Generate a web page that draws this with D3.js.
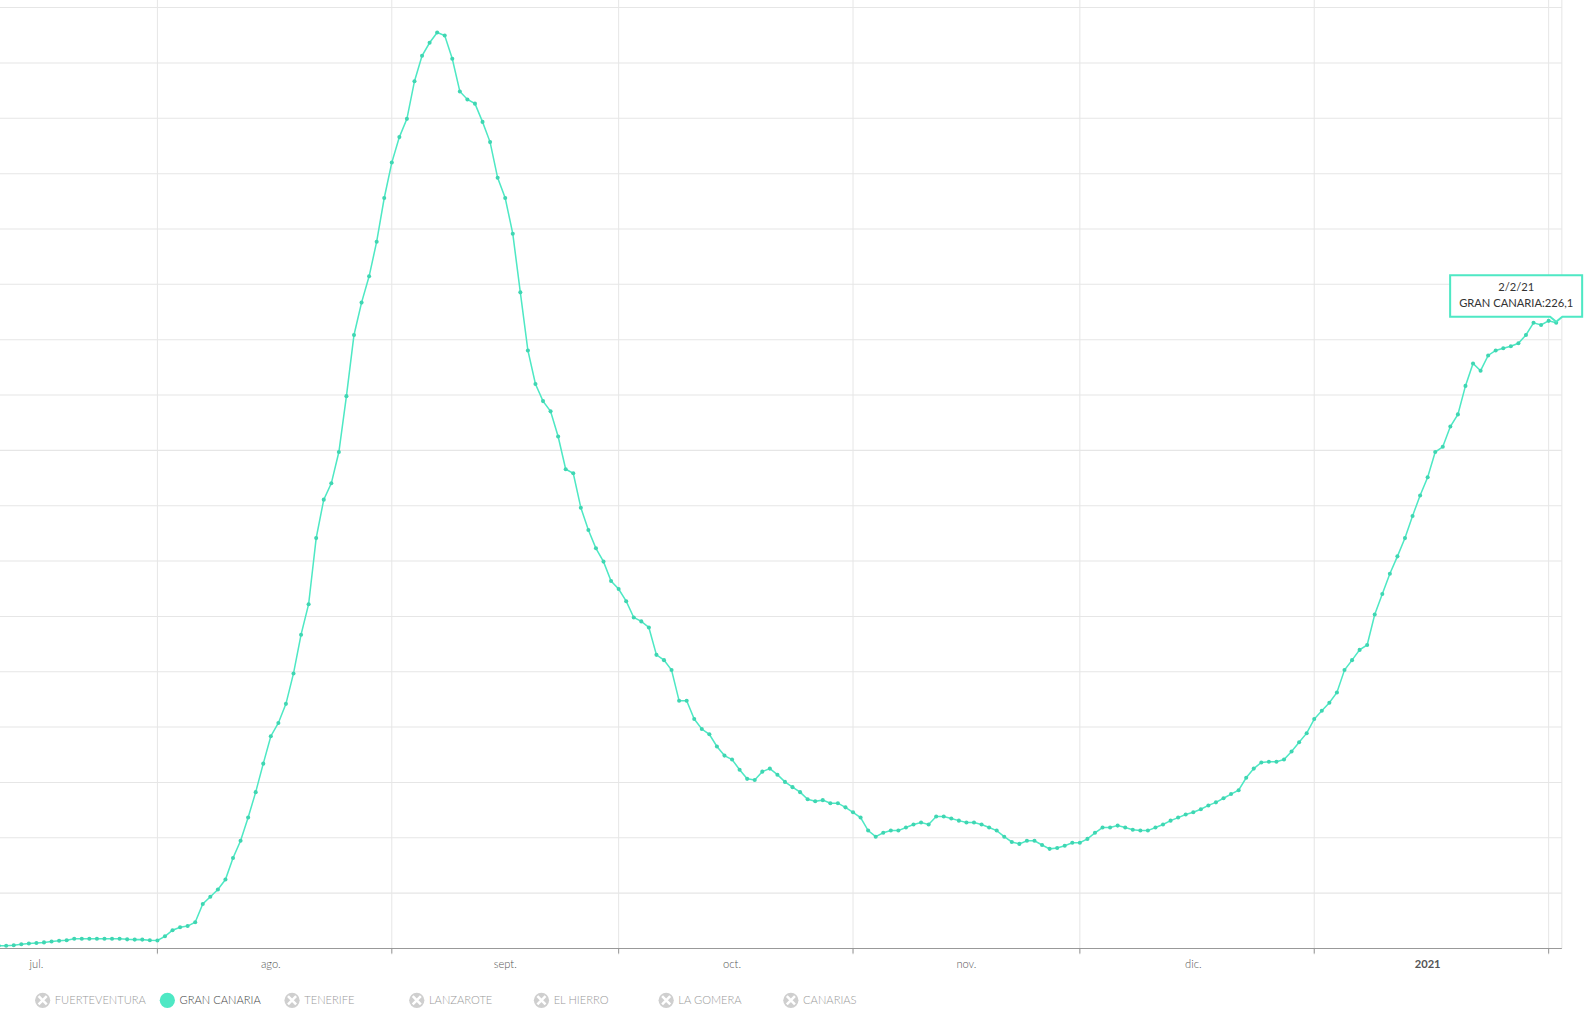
<!DOCTYPE html>
<html>
<head>
<meta charset="utf-8">
<script src="https://cdn.jsdelivr.net/npm/d3@7"></script>
<style>
body { margin: 0; background: #fff; font-family: Lato, "Open Sans", sans-serif; }
</style>
</head>
<body>
<svg id="chart" width="1590" height="1018"></svg>
<script>
// daily incidence, Gran Canaria, from 10 Jul 2020 to 2 Feb 2021
const startDate = new Date(2020, 6, 10);
const julValues = [1, 1, 1, 1.2, 1.5, 1.8, 2, 2.2, 2.5, 2.8, 3, 3.5, 3.5, 3.5, 3.5, 3.5, 3.5, 3.5, 3.3, 3.2, 3.2, 3];
const augValues = [2.9, 4.4, 6.6, 7.7, 8.1, 9.5, 16.1, 18.7, 21.3, 24.9, 32.7, 38.9, 47.3, 56.5, 66.8, 76.7, 81.5, 88.4, 99.4, 113.4, 124.4, 148.3, 162.2, 168.1, 179.4, 199.6, 221.7, 233.4, 242.9, 255.4, 271.2];
const sepValues = [284.0, 293.2, 299.8, 313.4, 322.6, 327.3, 331.0, 329.9, 321.5, 309.7, 306.8, 305.3, 298.7, 291.4, 278.5, 271.2, 258.3, 237.1, 216.1, 204.0, 197.8, 194.1, 185.0, 173.2, 171.7, 159.3, 151.2, 144.6, 139.8, 132.8];
const octValues = [129.9, 125.5, 119.6, 118.2, 116.0, 106.1, 104.2, 100.6, 89.5, 89.5, 82.9, 79.3, 77.4, 73.0, 69.7, 68.3, 64.6, 61.3, 60.9, 63.9, 65.0, 62.8, 60.2, 58.3, 56.5, 53.9, 53.2, 53.6, 52.5, 52.5, 51.0];
const novValues = [49.2, 47.3, 42.6, 40.4, 41.8, 42.6, 42.6, 43.7, 44.8, 45.5, 44.8, 47.7, 47.7, 47.0, 46.2, 45.5, 45.5, 44.8, 43.7, 42.6, 40.4, 38.5, 37.8, 38.9, 38.9, 37.4, 36.0, 36.3, 37.1, 38.2];
const decValues = [38.2, 39.6, 41.8, 43.7, 43.7, 44.4, 43.7, 42.9, 42.6, 42.6, 43.7, 44.8, 46.2, 47.3, 48.4, 49.2, 50.3, 51.7, 52.8, 54.3, 55.8, 57.2, 61.7, 65.0, 67.2, 67.5, 67.5, 68.3, 71.2, 74.5, 77.8];
const janValues = [82.9, 85.9, 88.8, 92.5, 100.6, 104.2, 107.9, 109.7, 120.7, 128.1, 135.4, 141.7, 148.3, 156.3, 163.7, 170.3, 179.4, 181.3, 188.6, 193.0, 203.3, 211.4, 208.8, 214.3, 216.1, 216.9, 217.6, 218.7, 221.7, 226.1, 225.3];
const febValues = [226.8, 226.1];
const monthLabels = ["jul.", "ago.", "sept.", "oct.", "nov.", "dic.", "2021"];
const legendNames = ["FUERTEVENTURA", "GRAN CANARIA", "TENERIFE", "LANZAROTE", "EL HIERRO", "LA GOMERA", "CANARIAS"];
const activeSeries = "GRAN CANARIA";
const yTicks = d3.range(0, 341, 20);

const values = [].concat(julValues, augValues, sepValues, octValues, novValues, decValues, janValues, febValues);
const data = values.map((v, i) => ({ date: d3.timeDay.offset(startDate, i), value: v }));

const k = 1.0155;
const svg = d3.select("#chart").append("g").attr("transform", `scale(${k})`);
const color = "#4ee8c4";
const x = d3.scaleTime().domain([new Date(2020, 7, 1), new Date(2021, 1, 1)]).range([155, 1525]);
const y = d3.scaleLinear().domain([0, 340]).range([934, 7.5]);
const right = 1538;

// horizontal grid
svg.append("g").selectAll("line").data(yTicks.slice(1)).enter().append("line")
  .attr("x1", 0).attr("x2", right).attr("y1", d => y(d)).attr("y2", d => y(d))
  .attr("stroke", "#e6e6e6");
// vertical grid at month starts
const monthStarts = d3.timeMonth.range(new Date(2020, 7, 1), new Date(2021, 1, 2));
svg.append("g").selectAll("line").data(monthStarts).enter().append("line")
  .attr("x1", d => x(d)).attr("x2", d => x(d)).attr("y1", 0).attr("y2", 940)
  .attr("stroke", "#e6e6e6");
svg.append("line").attr("x1", right).attr("x2", right).attr("y1", 0).attr("y2", 934).attr("stroke", "#e6e6e6");

// x axis
svg.append("line").attr("x1", 0).attr("x2", right).attr("y1", 934).attr("y2", 934).attr("stroke", "#999");
svg.append("g").selectAll("line").data(monthStarts).enter().append("line")
  .attr("x1", d => x(d)).attr("x2", d => x(d)).attr("y1", 934).attr("y2", 939).attr("stroke", "#999");
const labelDates = d3.timeMonth.range(new Date(2020, 6, 1), new Date(2021, 1, 1)).map(d => d3.timeDay.offset(d, 15));
svg.append("g").selectAll("text").data(labelDates).enter().append("text")
  .attr("x", d => x(d)).attr("y", 953).attr("text-anchor", "middle")
  .attr("font-size", 11).attr("fill", "#555")
  .attr("font-weight", (d, i) => monthLabels[i] === "2021" ? "bold" : "300")
  .text((d, i) => monthLabels[i]);

// line + dots
svg.append("path").datum(data)
  .attr("d", d3.line().x(d => x(d.date)).y(d => y(d.value)))
  .attr("fill", "none").attr("stroke", color).attr("stroke-width", 1.5);
svg.append("g").selectAll("circle").data(data).enter().append("circle")
  .attr("cx", d => x(d.date)).attr("cy", d => y(d.value)).attr("r", 2)
  .attr("fill", "#3fd6b2");

// tooltip
const last = data[data.length - 1];
const tx = x(last.date), ty = y(last.value);
const bx = 1428, by = 271, bw = 130, bh = 41;
svg.append("path")
  .attr("d", `M${bx},${by} H${bx + bw} V${by + bh} H${tx + 6} L${tx},${ty - 1} L${tx - 6},${by + bh} H${bx} Z`)
  .attr("fill", "#fff").attr("stroke", color).attr("stroke-width", 2);
svg.append("text").attr("x", bx + bw / 2).attr("y", by + 16).attr("text-anchor", "middle")
  .attr("font-size", 11).attr("fill", "#333").text("2/2/21");
svg.append("text").attr("x", bx + bw / 2).attr("y", by + 31).attr("text-anchor", "middle")
  .attr("font-size", 11).attr("fill", "#333")
  .text(activeSeries + ":" + d3.format(".1f")(last.value).replace(".", ","));

// legend
const leg = svg.append("g").selectAll("g").data(legendNames).enter().append("g")
  .attr("transform", (d, i) => `translate(${42 + i * 122.8},985)`);
leg.append("circle").attr("r", 7.5).attr("fill", d => d === activeSeries ? color : "#cfcfcf");
leg.filter(d => d !== activeSeries).append("path")
  .attr("d", "M-4,-4 L4,4 M4,-4 L-4,4").attr("stroke", "#fff").attr("stroke-width", 2.5);
leg.append("text").attr("x", 12).attr("y", 4).attr("font-size", 11).attr("font-weight", "300")
  .attr("fill", d => d === activeSeries ? "#444" : "#999").text(d => d);
</script>
</body>
</html>
